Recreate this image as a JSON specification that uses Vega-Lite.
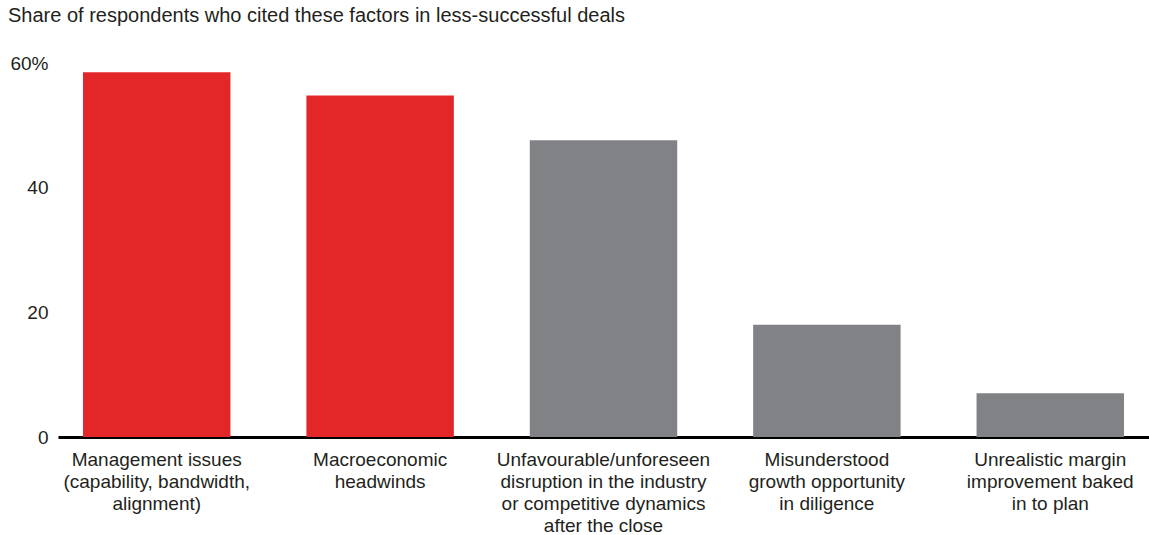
{
  "$schema": "https://vega.github.io/schema/vega-lite/v6.json",
  "autosize": {"type": "none"},
  "width": 1091,
  "height": 374,
  "padding": {"left": 58, "top": 63, "right": 0, "bottom": 98},
  "background": "white",
  "title": {
    "text": "Share of respondents who cited these factors in less-successful deals",
    "anchor": "start",
    "frame": "group",
    "dx": -50,
    "offset": 28,
    "font": "Liberation Sans",
    "fontSize": 20,
    "fontWeight": "normal",
    "color": "#231f20"
  },
  "config": {
    "view": {"stroke": null},
    "font": "Liberation Sans"
  },
  "data": {
    "values": [
      {"factor": "Management issues|(capability, bandwidth,|alignment)", "share": 58.5},
      {"factor": "Macroeconomic|headwinds", "share": 54.8},
      {"factor": "Unfavourable/unforeseen|disruption in the industry|or competitive dynamics|after the close", "share": 47.6},
      {"factor": "Misunderstood|growth opportunity|in diligence", "share": 18},
      {"factor": "Unrealistic margin|improvement baked|in to plan", "share": 7}
    ]
  },
  "mark": {"type": "bar"},
  "encoding": {
    "x": {
      "field": "factor",
      "type": "nominal",
      "sort": null,
      "scale": {"paddingInner": 0.34, "paddingOuter": 0.112},
      "axis": {
        "title": null,
        "labelAngle": 0,
        "labelExpr": "split(datum.label, '|')",
        "labelLimit": 0,
        "labelFontSize": 19,
        "labelLineHeight": 22.3,
        "labelColor": "#231f20",
        "labelPadding": 13,
        "labelBaseline": "top",
        "ticks": false,
        "domainColor": "#000000",
        "domainWidth": 3,
        "grid": false
      }
    },
    "y": {
      "field": "share",
      "type": "quantitative",
      "scale": {"domain": [0, 60], "nice": false},
      "axis": {
        "title": null,
        "values": [0, 20, 40, 60],
        "labelExpr": "datum.value == 60 ? '60%' : datum.label",
        "labelFontSize": 19,
        "labelColor": "#231f20",
        "labelPadding": 10,
        "ticks": false,
        "domain": false,
        "grid": false
      }
    },
    "color": {
      "condition": {"test": "datum.share > 50", "value": "#e32628"},
      "value": "#808285"
    }
  }
}
